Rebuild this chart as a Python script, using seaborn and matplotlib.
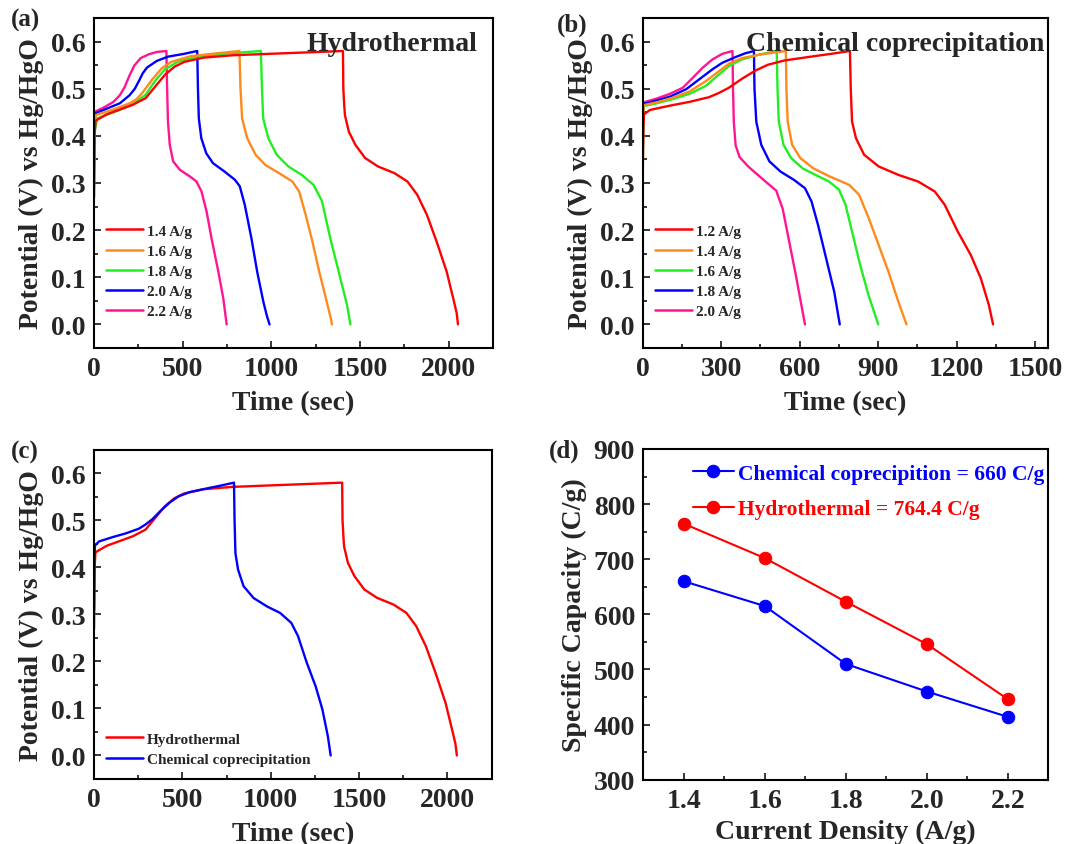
import pandas as pd
import matplotlib
matplotlib.use('Agg')
import matplotlib.pyplot as plt
from matplotlib.ticker import MultipleLocator
import seaborn as sns

# -----------------------------
# Data
# -----------------------------
# (a) Hydrothermal GCD curves (charge, then discharge)
hyd_14_t = [0, 3, 8, 73, 146, 219, 291, 346, 401, 455, 510, 619, 783, 1056, 1404,
            1404, 1406, 1411, 1415, 1437, 1474, 1529, 1602, 1694, 1768, 1823, 1878, 1933, 1989, 2026, 2045, 2053]
hyd_14_v = [0.27, 0.40, 0.432, 0.446, 0.456, 0.466, 0.480, 0.505, 0.530, 0.547, 0.557, 0.566, 0.571, 0.575, 0.580,
            0.580, 0.501, 0.466, 0.444, 0.409, 0.381, 0.353, 0.335, 0.321, 0.303, 0.275, 0.232, 0.175, 0.112, 0.055, 0.025, 0.0]
hyd_16_t = [0, 3, 9, 109, 200, 240, 272, 327, 381, 436, 544, 690, 820,
            820, 826, 835, 864, 911, 967, 1043, 1119, 1157, 1194, 1232, 1270, 1308, 1336, 1342]
hyd_16_v = [0.33, 0.42, 0.444, 0.456, 0.469, 0.478, 0.491, 0.519, 0.543, 0.557, 0.569, 0.575, 0.580,
            0.580, 0.501, 0.437, 0.395, 0.360, 0.338, 0.321, 0.303, 0.282, 0.232, 0.175, 0.112, 0.055, 0.012, 0.0]
hyd_18_t = [0, 3, 18, 73, 145, 218, 290, 345, 399, 472, 581, 726, 941,
            941, 947, 954, 983, 1030, 1096, 1172, 1238, 1285, 1333, 1389, 1427, 1446]
hyd_18_v = [0.29, 0.41, 0.437, 0.445, 0.455, 0.467, 0.487, 0.517, 0.541, 0.557, 0.568, 0.574, 0.580,
            0.580, 0.501, 0.437, 0.395, 0.360, 0.335, 0.317, 0.296, 0.262, 0.182, 0.098, 0.041, 0.0]
hyd_20_t = [0, 3, 8, 73, 145, 200, 230, 254, 275, 299, 354, 417, 508, 582,
            582, 586, 591, 605, 633, 671, 737, 794, 822, 850, 888, 920, 955, 975, 990]
hyd_20_v = [0.37, 0.43, 0.448, 0.458, 0.469, 0.486, 0.500, 0.517, 0.533, 0.545, 0.559, 0.568, 0.574, 0.580,
            0.580, 0.501, 0.437, 0.395, 0.363, 0.342, 0.324, 0.307, 0.293, 0.254, 0.182, 0.112, 0.048, 0.018, 0.0]
hyd_22_t = [0, 2, 4, 54, 109, 145, 172, 200, 227, 263, 309, 354, 408,
            408, 412, 417, 427, 446, 484, 540, 578, 606, 635, 663, 701, 729, 748]
hyd_22_v = [0.40, 0.44, 0.451, 0.460, 0.472, 0.486, 0.503, 0.528, 0.549, 0.565, 0.573, 0.578, 0.580,
            0.580, 0.502, 0.430, 0.381, 0.346, 0.328, 0.314, 0.303, 0.282, 0.239, 0.182, 0.112, 0.055, 0.0]

# (b) Chemical coprecipitation GCD curves
chem_12_t = [0, 2, 5, 28, 103, 178, 253, 291, 329, 379, 429, 479, 542, 655, 720, 792,
             792, 795, 800, 815, 846, 902, 978, 1053, 1116, 1154, 1204, 1254, 1292, 1323, 1339]
chem_12_v = [0.31, 0.42, 0.446, 0.455, 0.464, 0.472, 0.482, 0.491, 0.502, 0.521, 0.538, 0.551, 0.560, 0.569, 0.574, 0.580,
             0.580, 0.501, 0.430, 0.395, 0.360, 0.335, 0.317, 0.303, 0.282, 0.254, 0.197, 0.147, 0.098, 0.041, 0.0]
chem_14_t = [0, 2, 3, 53, 115, 178, 241, 291, 329, 379, 454, 547,
             547, 549, 554, 571, 602, 652, 714, 789, 827, 864, 902, 939, 977, 1008]
chem_14_v = [0.34, 0.44, 0.465, 0.471, 0.481, 0.494, 0.516, 0.537, 0.553, 0.565, 0.573, 0.580,
             0.580, 0.501, 0.430, 0.381, 0.353, 0.331, 0.314, 0.296, 0.275, 0.225, 0.168, 0.112, 0.048, 0.0]
chem_16_t = [0, 2, 3, 53, 115, 178, 241, 291, 329, 379, 442, 512,
             512, 515, 520, 538, 567, 611, 661, 712, 750, 775, 800, 831, 863, 900]
chem_16_v = [0.33, 0.44, 0.463, 0.469, 0.478, 0.489, 0.506, 0.530, 0.548, 0.562, 0.572, 0.580,
             0.580, 0.501, 0.430, 0.381, 0.353, 0.331, 0.317, 0.303, 0.286, 0.254, 0.197, 0.126, 0.062, 0.0]
chem_18_t = [0, 2, 3, 53, 103, 166, 216, 266, 304, 354, 391, 425,
             425, 427, 434, 453, 484, 527, 577, 620, 645, 670, 701, 732, 753]
chem_18_v = [0.36, 0.44, 0.468, 0.475, 0.483, 0.499, 0.520, 0.541, 0.555, 0.567, 0.575, 0.580,
             0.580, 0.501, 0.430, 0.381, 0.346, 0.324, 0.307, 0.289, 0.261, 0.211, 0.140, 0.069, 0.0]
chem_20_t = [0, 2, 3, 53, 103, 153, 191, 228, 266, 304, 343,
             343, 345, 348, 355, 370, 403, 465, 510, 535, 560, 585, 605, 620]
chem_20_v = [0.37, 0.45, 0.471, 0.479, 0.489, 0.502, 0.523, 0.544, 0.562, 0.574, 0.580,
             0.580, 0.500, 0.430, 0.380, 0.355, 0.335, 0.305, 0.284, 0.245, 0.175, 0.105, 0.045, 0.0]

# (d) specific capacity
current_density = [1.4, 1.6, 1.8, 2.0, 2.2]
cap_chem = [660, 615, 510, 460, 414]
cap_hyd = [764.4, 702, 623, 546, 446]

colors5 = ['#FF0000', '#FF8A1C', '#22EE22', '#0000FF', '#FF1493']
FS = 20


def gcd_frame(curves, labels):
    parts = []
    for (t, v), lab in zip(curves, labels):
        parts.append(pd.DataFrame({'Time': t, 'Potential': v, 'Label': lab}))
    return pd.concat(parts, ignore_index=True)


sns.set_style('ticks')
plt.rcParams['font.family'] = ['Liberation Serif', 'DejaVu Serif']
plt.rcParams['font.weight'] = 'bold'
plt.rcParams['axes.labelweight'] = 'bold'
plt.rcParams['axes.linewidth'] = 1.5
plt.rcParams['axes.edgecolor'] = 'black'

fig = plt.figure(figsize=(10.7, 8.45), dpi=100)
ax_a = fig.add_axes([0.0879, 0.587, 0.3728, 0.3905])
ax_b = fig.add_axes([0.6007, 0.587, 0.3790, 0.3905])
ax_c = fig.add_axes([0.0879, 0.0769, 0.3716, 0.3897])
ax_d = fig.add_axes([0.6012, 0.0761, 0.3785, 0.3914])


def style_axes(ax, xmaj, xmin, ymaj, ymin):
    ax.xaxis.set_major_locator(MultipleLocator(xmaj))
    ax.xaxis.set_minor_locator(MultipleLocator(xmin))
    ax.yaxis.set_major_locator(MultipleLocator(ymaj))
    ax.yaxis.set_minor_locator(MultipleLocator(ymin))
    ax.tick_params(which='both', direction='in', top=False, right=False, width=1.3)
    ax.tick_params(which='major', length=5, labelsize=FS, pad=6)
    ax.tick_params(which='minor', length=3)
    for s in ax.spines.values():
        s.set_linewidth(1.5)
        s.set_visible(True)


def gcd_legend(ax, labels, colors, y0):
    handles = [plt.Line2D([], [], color=c, lw=1.8) for c in colors]
    ax.legend(handles, labels, loc='lower left', bbox_to_anchor=(0.03, y0), frameon=False,
              borderaxespad=0, borderpad=0, handlelength=2.4, handletextpad=0.3,
              labelspacing=0.42, prop={'size': 11, 'weight': 'bold'})


# -----------------------------
# (a) Hydrothermal
# -----------------------------
labels_a = ['1.4 A/g', '1.6 A/g', '1.8 A/g', '2.0 A/g', '2.2 A/g']
df_a = gcd_frame([(hyd_14_t, hyd_14_v), (hyd_16_t, hyd_16_v), (hyd_18_t, hyd_18_v),
                  (hyd_20_t, hyd_20_v), (hyd_22_t, hyd_22_v)], labels_a)
sns.lineplot(data=df_a, x='Time', y='Potential', hue='Label', hue_order=labels_a[::-1],
             palette=dict(zip(labels_a, colors5)), sort=False, estimator=None, lw=1.7, ax=ax_a, legend=False)
ax_a.set_xlim(0, 2250)
ax_a.set_ylim(-0.05, 0.65)
style_axes(ax_a, 500, 250, 0.1, 0.05)
ax_a.set_xlabel('Time (sec)', fontsize=FS, labelpad=6)
ax_a.set_ylabel('Potential (V) vs Hg/HgO', fontsize=FS, labelpad=5)
ax_a.text(0.962, 0.96, 'Hydrothermal', transform=ax_a.transAxes, ha='right', va='top',
          fontsize=FS, fontweight='bold')
gcd_legend(ax_a, labels_a, colors5, 0.09)

# -----------------------------
# (b) Chemical coprecipitation
# -----------------------------
labels_b = ['1.2 A/g', '1.4 A/g', '1.6 A/g', '1.8 A/g', '2.0 A/g']
df_b = gcd_frame([(chem_12_t, chem_12_v), (chem_14_t, chem_14_v), (chem_16_t, chem_16_v),
                  (chem_18_t, chem_18_v), (chem_20_t, chem_20_v)], labels_b)
sns.lineplot(data=df_b, x='Time', y='Potential', hue='Label', hue_order=labels_b[::-1],
             palette=dict(zip(labels_b, colors5)), sort=False, estimator=None, lw=1.7, ax=ax_b, legend=False)
ax_b.set_xlim(0, 1550)
ax_b.set_ylim(-0.05, 0.65)
style_axes(ax_b, 300, 150, 0.1, 0.05)
ax_b.set_xlabel('Time (sec)', fontsize=FS, labelpad=6)
ax_b.set_ylabel('Potential (V) vs Hg/HgO', fontsize=FS, labelpad=5)
ax_b.text(0.99, 0.96, 'Chemical coprecipitation', transform=ax_b.transAxes, ha='right', va='top',
          fontsize=FS, fontweight='bold')
gcd_legend(ax_b, labels_b, colors5, 0.09)

# -----------------------------
# (c) Comparison
# -----------------------------
labels_c = ['Hydrothermal', 'Chemical coprecipitation']
df_c = gcd_frame([(hyd_14_t, hyd_14_v), (chem_12_t, chem_12_v)], labels_c)
sns.lineplot(data=df_c, x='Time', y='Potential', hue='Label', hue_order=labels_c,
             palette={'Hydrothermal': '#FF0000', 'Chemical coprecipitation': '#0000FF'},
             sort=False, estimator=None, lw=1.7, ax=ax_c, legend=False)
ax_c.set_xlim(0, 2250)
ax_c.set_ylim(-0.05, 0.65)
style_axes(ax_c, 500, 250, 0.1, 0.05)
ax_c.set_xlabel('Time (sec)', fontsize=FS, labelpad=6)
ax_c.set_ylabel('Potential (V) vs Hg/HgO', fontsize=FS, labelpad=5)
gcd_legend(ax_c, labels_c, ['#FF0000', '#0000FF'], 0.04)

# -----------------------------
# (d) Specific capacity vs current density
# -----------------------------
df_d = pd.concat([
    pd.DataFrame({'Current': current_density, 'Capacity': cap_chem, 'Method': 'Chemical coprecipition = 660 C/g'}),
    pd.DataFrame({'Current': current_density, 'Capacity': cap_hyd, 'Method': 'Hydrothermal = 764.4 C/g'}),
], ignore_index=True)
pal_d = {'Chemical coprecipition = 660 C/g': '#0000FF', 'Hydrothermal = 764.4 C/g': '#FF0000'}
sns.lineplot(data=df_d, x='Current', y='Capacity', hue='Method', palette=pal_d, marker='o',
             markersize=9, lw=1.5, ax=ax_d)
for ln in ax_d.lines:
    ln.set_markeredgecolor(ln.get_color())
ax_d.set_xlim(1.3, 2.3)
ax_d.set_ylim(300, 900)
style_axes(ax_d, 0.2, 0.1, 100, 50)
ax_d.set_xlabel('Current Density (A/g)', fontsize=FS, labelpad=4)
ax_d.set_ylabel('Specific Capacity (C/g)', fontsize=FS, labelpad=5)
leg = ax_d.legend(loc='upper right', bbox_to_anchor=(0.99, 0.955), frameon=False, borderaxespad=0,
                  borderpad=0, handlelength=1.9, handletextpad=0.2, labelspacing=0.72,
                  prop={'size': 15.5, 'weight': 'bold'})
for txt, c in zip(leg.get_texts(), ['#0000FF', '#FF0000']):
    txt.set_color(c)

# panel letters
fig.text(0.010, 0.976, '(a)', fontsize=18, fontweight='bold', va='center')
fig.text(0.520, 0.970, '(b)', fontsize=18, fontweight='bold', va='center')
fig.text(0.010, 0.464, '(c)', fontsize=18, fontweight='bold', va='center')
fig.text(0.513, 0.466, '(d)', fontsize=18, fontweight='bold', va='center')

plt.savefig('out.png', dpi=100)
